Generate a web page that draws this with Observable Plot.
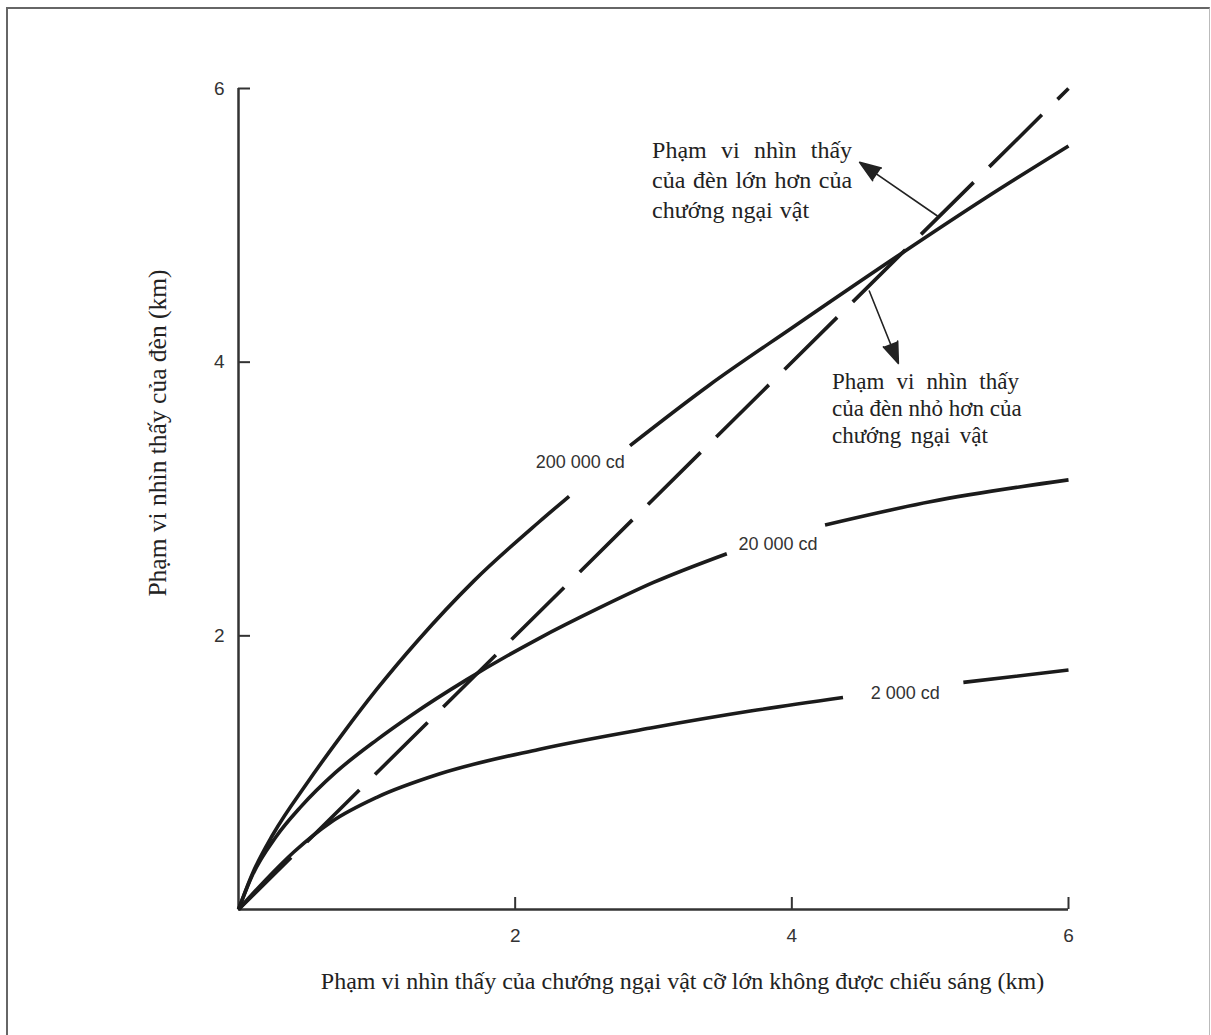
<!DOCTYPE html>
<html><head><meta charset="utf-8">
<script src="https://cdn.jsdelivr.net/npm/d3@7"></script>
<script src="https://cdn.jsdelivr.net/npm/@observablehq/plot@0.6"></script>
<style>
body{margin:0;background:#fff;}
#wrap{position:relative;width:1211px;height:1035px;overflow:hidden;background:#fff;}
#frame{position:absolute;left:6px;top:7px;width:1204px;height:1100px;border-top:2px solid #666;border-left:2px solid #666;border-right:1px solid #bbb;pointer-events:none;box-sizing:border-box;}
</style></head><body><div id="wrap"><div id="chart"></div><div id="frame"></div></div>
<script>
// ---- data ----
const xTicks = [2, 4, 6];
const yTicks = [2, 4, 6];
const xTitle = "Phạm vi nhìn thấy của chướng ngại vật cỡ lớn không được chiếu sáng (km)";
const yTitle = "Phạm vi nhìn thấy của đèn (km)";

// diagonal (equal range) dashed line
const diagX = [0, 6];
const diagY = [0, 6];

// 200 000 cd curve (NaN = gap left for the label)
const cd200kX = [0, 0.1, 0.25, 0.5, 0.75, 1.0, 1.3, 1.7, 2.17, 2.39, 2.6, 2.83, 3.4, 4.0, 4.8, 5.4, 6.0];
const cd200kY = [0, 0.26, 0.55, 0.93, 1.28, 1.61, 1.97, 2.40, 2.83, 3.02, NaN, 3.39, 3.83, 4.25, 4.80, 5.20, 5.58];
// 20 000 cd curve
const cd20kX = [0, 0.1, 0.27, 0.45, 0.7, 1.0, 1.25, 1.65, 2.17, 2.6, 3.0, 3.53, 3.9, 4.24, 5.0, 6.0];
const cd20kY = [0, 0.25, 0.53, 0.75, 1.00, 1.24, 1.42, 1.68, 1.98, 2.20, 2.39, 2.60, NaN, 2.81, 2.98, 3.14];
// 2 000 cd curve
const cd2kX = [0, 0.2, 0.4, 0.67, 1.0, 1.45, 2.17, 3.0, 3.7, 4.37, 4.8, 5.24, 6.0];
const cd2kY = [0, 0.22, 0.42, 0.64, 0.82, 0.99, 1.17, 1.33, 1.45, 1.55, NaN, 1.66, 1.75];

const curveLabels = ["200 000 cd", "20 000 cd", "2 000 cd"];
const curveLabelX = [2.47, 3.90, 4.82];
const curveLabelY = [3.27, 2.67, 1.58];

const note1 = "Phạm vi nhìn thấy\ncủa đèn lớn hơn của\nchướng ngại vật";
const note2 = "Phạm vi nhìn thấy\ncủa đèn nhỏ hơn của\nchướng ngại vật";
const note1X = 2.99, note1Y = 5.65;
const note2X = 4.29, note2Y = 3.94;
// printed width (px) of each note line (justified setting)
const note1LineWidths = [200, 200, 157];
const note2LineWidths = [187, 187, 156];

const arrowX1 = [5.05, 4.56];
const arrowY1 = [5.07, 4.52];
const arrowX2 = [4.49, 4.77];
const arrowY2 = [5.46, 3.99];

// ---- build tables ----
const toRows = (xs, ys) => xs.map((x, i) => ({x, y: ys[i]}));
const diag = toRows(diagX, diagY);
const c200k = toRows(cd200kX, cd200kY);
const c20k = toRows(cd20kX, cd20kY);
const c2k = toRows(cd2kX, cd2kY);
const labels = curveLabels.map((t, i) => ({t, x: curveLabelX[i], y: curveLabelY[i]}));
const arrows = arrowX1.map((x1, i) => ({x1, y1: arrowY1[i], x2: arrowX2[i], y2: arrowY2[i]}));

const serif = "Liberation Serif, Times New Roman, serif";
const sans = "Liberation Sans, Arial, sans-serif";
const ink = "#1b1b1b";
const axisInk = "#333";

const curveOpts = {x: "x", y: "y", stroke: ink, strokeWidth: 3.6, curve: "monotone-x", strokeLinecap: "butt"};
const noteOpts = {x: "x", y: "y", text: "t", textAnchor: "start", lineAnchor: "top", fontFamily: serif, fill: "#222"};

const chart = Plot.plot({
  width: 1211,
  height: 1035,
  marginLeft: 238,
  marginRight: 143,
  marginTop: 88,
  marginBottom: 126,
  style: {background: "transparent"},
  x: {domain: [0, 6]},
  y: {domain: [0, 6]},
  marks: [
    // axis lines
    Plot.ruleX([0], {stroke: axisInk, strokeWidth: 2.5}),
    Plot.ruleY([0], {stroke: axisInk, strokeWidth: 2.5}),
    // inward ticks
    Plot.tickX(xTicks, {x: d => d, stroke: axisInk, strokeWidth: 2, insetTop: 809}),
    Plot.tickY(yTicks, {y: d => d, stroke: axisInk, strokeWidth: 2, insetRight: 818}),
    // tick labels
    Plot.axisX({ticks: xTicks, tickFormat: d3.format("d"), tickSize: 0, tickPadding: 19, fontSize: 19, fontFamily: sans, label: null, color: axisInk}),
    Plot.axisY({ticks: yTicks, tickFormat: d3.format("d"), tickSize: 0, tickPadding: 14, fontSize: 19, fontFamily: sans, label: null, color: axisInk}),
    // curves
    Plot.line(diag, {...curveOpts, curve: "linear", strokeDasharray: "74,22"}),
    Plot.line(c200k, curveOpts),
    Plot.line(c20k, curveOpts),
    Plot.line(c2k, curveOpts),
    // curve labels
    Plot.text(labels, {x: "x", y: "y", text: "t", fontSize: 18, fontFamily: sans, fill: axisInk}),
    // notes
    Plot.text([{t: note1, x: note1X, y: note1Y}], {...noteOpts, fontSize: 24, lineHeight: 1.25}),
    Plot.text([{t: note2, x: note2X, y: note2Y}], {...noteOpts, fontSize: 23, lineHeight: 1.17}),
    Plot.arrow(arrows, {x1: "x1", y1: "y1", x2: "x2", y2: "y2", stroke: "#222", fill: "#222", strokeWidth: 1.6, headLength: 21, headAngle: 40}),
    // axis titles
    Plot.text([xTitle], {text: d => d, frameAnchor: "bottom", textAnchor: "middle", dx: 29, dy: 79, fontSize: 24, fontFamily: serif, fill: "#222"}),
    Plot.text([yTitle], {text: d => d, frameAnchor: "left", textAnchor: "middle", rotate: -90, dx: -81, dy: -66, fontSize: 25.5, fontFamily: serif, fill: "#222"})
  ]
});
document.getElementById("chart").appendChild(chart);

// justified setting of the notes: spread words so each line has its printed width
const noteWidths = [note1LineWidths, note2LineWidths];
const multi = Array.from(chart.querySelectorAll("text")).filter(t => t.querySelectorAll("tspan").length === 3);
multi.forEach((t, k) => {
  const widths = noteWidths[k];
  if (!widths) return;
  t.querySelectorAll("tspan").forEach((s, i) => {
    const w = s.getComputedTextLength();
    const n = (s.textContent.match(/ /g) || []).length;
    if (n > 0) s.style.wordSpacing = Math.max(0, (widths[i] - w) / n) + "px";
  });
});
</script>
</body></html>
